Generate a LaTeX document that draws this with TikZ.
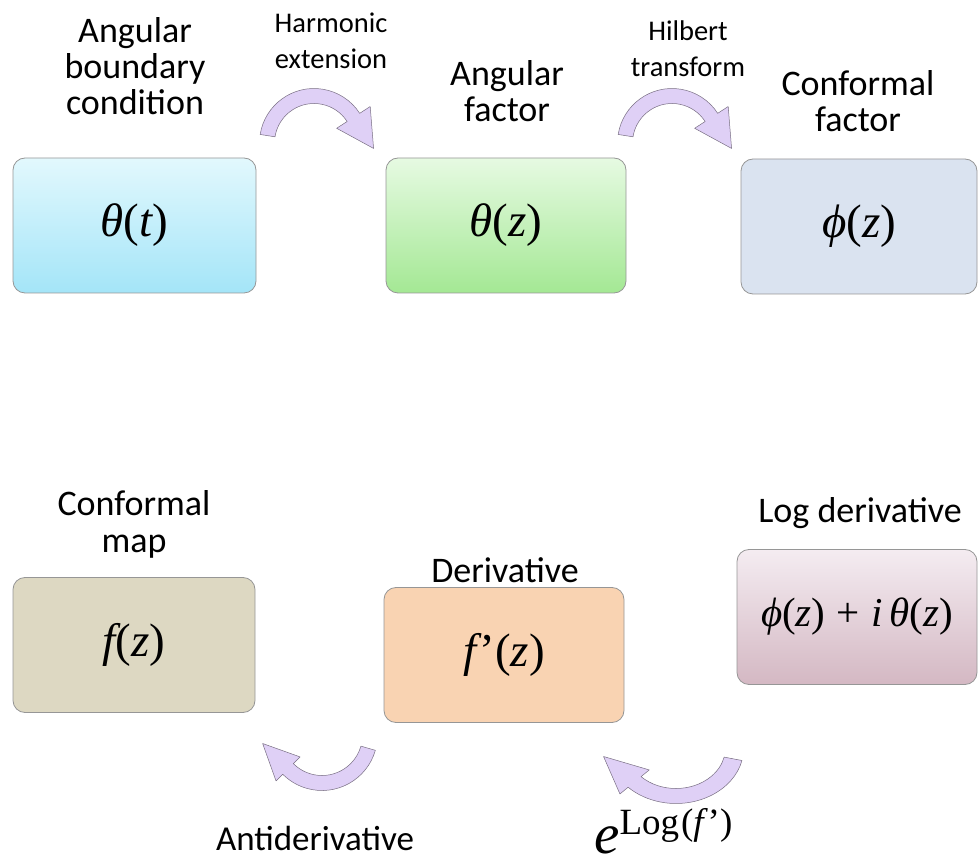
\documentclass[tikz,border=0pt]{standalone}
\usepackage{fontspec}
\setmainfont{Carlito}
\newfontfamily\tms{Liberation Serif}
\usetikzlibrary{calc}
\newcommand\mi[1]{{\tms\itshape #1}}
\newcommand\mr[1]{{\tms\upshape #1}}
\definecolor{bordergray}{RGB}{150,150,150}
\definecolor{ctopa}{RGB}{226,248,253}
\definecolor{cbota}{RGB}{164,229,248}
\definecolor{ctopb}{RGB}{230,250,226}
\definecolor{cbotb}{RGB}{164,232,148}
\definecolor{cboxc}{RGB}{218,227,240}
\definecolor{cboxd}{RGB}{221,216,194}
\definecolor{cboxe}{RGB}{249,211,178}
\definecolor{ctopf}{RGB}{244,236,241}
\definecolor{cbotf}{RGB}{212,184,195}
\definecolor{arrowfill}{RGB}{223,208,246}
\definecolor{arrowline}{RGB}{120,110,130}
% bent block arrow: cx, cy, R, a1, a2, shaft width, head half width, head length, xscale
\newcommand\bentarrow[9]{%
  \begin{scope}[shift={(#1,#2)}, xscale=#9]
    \filldraw[blockarrow]
      ({#4}:{#3+#6/2}) arc[start angle=#4, end angle=#5, radius=#3+#6/2]
      -- ({#5}:{#3+#7})
      -- ($({#5}:{#3})+({#5-90}:{#8})$)
      -- ({#5}:{#3-#7})
      -- ({#5}:{#3-#6/2}) arc[start angle=#5, end angle=#4, radius=#3-#6/2]
      -- cycle;
  \end{scope}}
\newcommand\lines[1]{\begin{tabular}[t]{@{}c@{}}#1\end{tabular}}
\begin{document}
\begin{tikzpicture}[x=1pt,y=1pt,
  box/.style={draw=bordergray, line width=0.8pt, rounded corners=12pt,
    minimum width=#1, minimum height=135pt, inner sep=0pt},
  box/.default=242pt,
  bigmath/.style={font=\fontsize{47}{47}\selectfont},
  biglab/.style={font=\fontsize{36}{36}\selectfont, anchor=base, inner sep=0pt},
  smalllab/.style={font=\fontsize{28.5}{36}\selectfont, anchor=base, inner sep=0pt},
  blockarrow/.style={fill=arrowfill, draw=arrowline, line width=0.5pt, line join=round}]
\useasboundingbox (0,0) rectangle (978,-866);

% boxes
\node[box=243pt, top color=ctopa, bottom color=cbota, bigmath] (theta_t) at (134.5,-225.5)
  {\mi{θ}\mr{(}\mi{t}\mr{)}};
\node[box=240pt, top color=ctopb, bottom color=cbotb, bigmath] (theta_z) at (506,-225.5)
  {\mi{θ}\mr{(}\mi{z}\mr{)}};
\node[box=236pt, fill=cboxc, bigmath] (phi_z) at (859,-226.5)
  {\mi{ϕ}\mr{(}\mi{z}\mr{)}};
\node[box=242pt, fill=cboxd, bigmath] (f_z) at (134,-645)
  {\mi{f}\mr{(}\mi{z}\mr{)}};
\node[box=240pt, fill=cboxe, bigmath] (fp_z) at (504,-655)
  {\mi{f}\hspace{3pt}\mr{’(}\mi{z}\mr{)}};
\node[box=240pt, top color=ctopf, bottom color=cbotf, font=\fontsize{41}{41}\selectfont] (log_d) at (857,-617)
  {\mi{ϕ}\mr{(}\mi{z}\mr{)\;+\;}\mi{i\,θ}\mr{(}\mi{z}\mr{)}};

% labels
\node[biglab] (l_abc) at (135,-43) {\lines{Angular\\boundary\\condition}};
\node[smalllab] (l_he) at (331,-33) {\lines{Harmonic\\extension}};
\node[biglab] (l_af) at (507,-86) {\lines{Angular\\factor}};
\node[smalllab] (l_ht) at (688,-41) {\lines{Hilbert\\transform}};
\node[biglab] (l_cf) at (858,-96) {\lines{Conformal\\factor}};
\node[biglab] (l_cm) at (134,-516) {\lines{Conformal\\map}};
\node[biglab] (l_d) at (505,-583) {Derivative};
\node[biglab] (l_ld) at (860,-522) {Log derivative};
\node[biglab, font=\fontsize{35}{36}\selectfont] (l_ad) at (315,-850) {Antiderivative};
\node[anchor=base west, inner sep=0pt, font=\fontsize{57}{57}\selectfont] (l_exp) at (594,-853)
  {\mi{e}\raisebox{19pt}{\fontsize{37}{37}\selectfont\mr{Log}\hspace{2pt}\mr{(}\mi{f}\hspace{4pt}\mr{’)}}};

% bent arrows
\bentarrow{314}{-143}{47}{171}{33}{15}{20}{37}{1}
\bentarrow{672}{-143}{47}{171}{33}{15}{20}{37}{1}
\bentarrow{322}{-735}{48}{-16}{-135}{15}{17}{36}{1}
\bentarrow{676}{-748}{48}{-13}{-135}{15}{17}{36}{1.22}
\end{tikzpicture}
\end{document}
